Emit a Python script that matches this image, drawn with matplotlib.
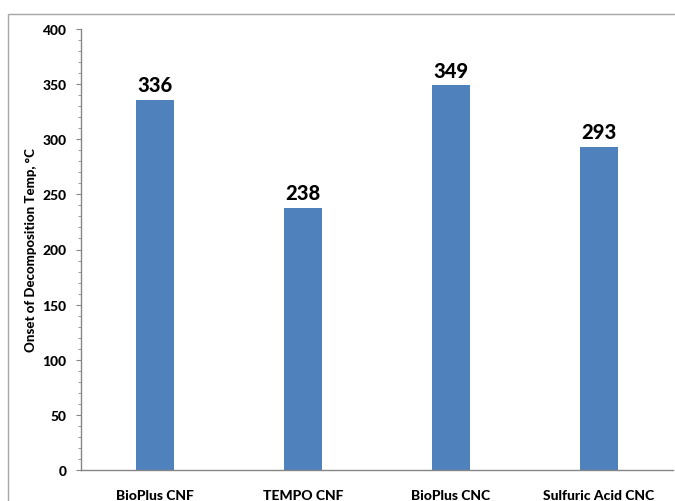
import matplotlib
matplotlib.use("Agg")
import matplotlib.pyplot as plt
from matplotlib.patches import Rectangle
from matplotlib.ticker import MultipleLocator

categories = ["BioPlus CNF", "TEMPO CNF", "BioPlus CNC", "Sulfuric Acid CNC"]
values = [336, 238, 349, 293]
ylabel = "Onset of Decomposition Temp, \u00b0C"

plt.rcParams['font.family'] = ['Lato', 'DejaVu Sans']

fig = plt.figure(figsize=(6.75, 5.02), dpi=100)
W, H = 675, 502
fig.patches.append(Rectangle((8 / W, -0.05), 1.1, 1 - 15 / H + 0.05,
                             transform=fig.transFigure, fill=False,
                             edgecolor='#a6a6a6', linewidth=1.0))

ax = fig.add_axes([81 / W, 1 - 471 / H, (673 - 81) / W, (471 - 30) / H])
x = list(range(len(categories)))
ax.bar(x, values, width=0.26, color='#4f81bd')
for xi, v in zip(x, values):
    ax.text(xi, v + 5, str(v), ha='center', va='bottom', fontsize=14.5,
            fontweight='black', color='black')

ax.set_xlim(-0.5, len(categories) - 0.5)
ax.set_ylim(0, 400)
ax.yaxis.set_major_locator(MultipleLocator(50))
ax.yaxis.set_minor_locator(MultipleLocator(10))
ax.set_xticks(x)
ax.set_xticklabels(categories, fontsize=10, fontweight='black')
ax.tick_params(axis='x', length=0, pad=14)
ax.tick_params(axis='y', which='major', length=3.6, color='#868686', labelsize=10, pad=7)
ax.tick_params(axis='y', which='minor', length=2.2, color='#868686')
for lbl in ax.get_yticklabels():
    lbl.set_fontweight('black')
ax.set_ylabel(ylabel, fontsize=9.5, fontweight='black', va='center')
ax.yaxis.set_label_coords(-(81 - 31.5) / 592, 0.5)
for s in ['top', 'right']:
    ax.spines[s].set_visible(False)
for s in ['left', 'bottom']:
    ax.spines[s].set_color('#868686')
    ax.spines[s].set_linewidth(1.0)

fig.savefig("out.png", dpi=100)
